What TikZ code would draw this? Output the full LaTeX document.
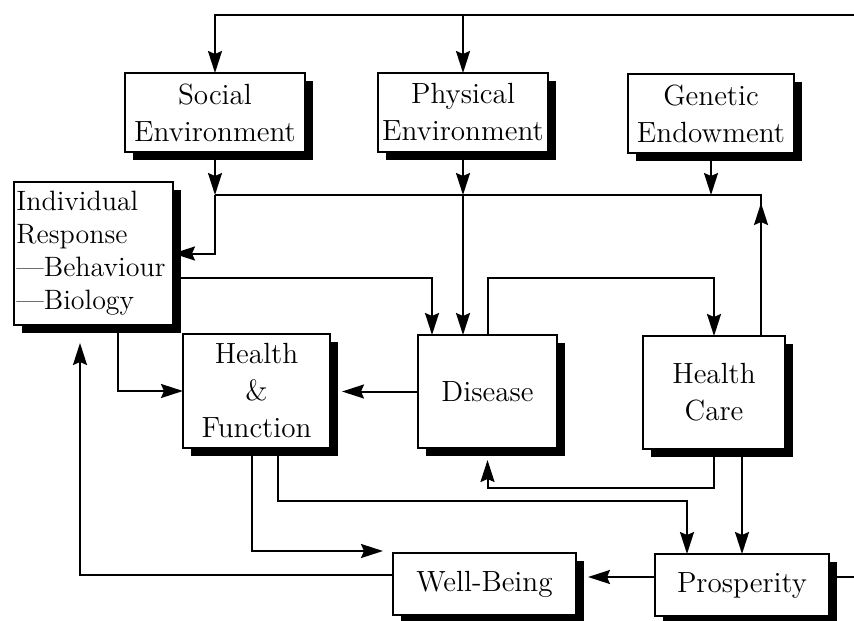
\documentclass[tikz,border=0pt]{standalone}
\usetikzlibrary{arrows.meta,shadows}
\newcommand\boxfont{\fontsize{14.6}{18.5}\selectfont}

\begin{document}
\begin{tikzpicture}[x=.5pt,y=-.5pt,
  blk/.style={draw,fill=white,line width=.7pt,inner sep=1pt,outer sep=0pt,
    align=center,font=\boxfont,
    drop shadow={shadow xshift=4pt,shadow yshift=-4pt,fill=black,opacity=1}},
  arr/.style={line width=1pt,-{Stealth[length=11pt,width=7pt,inset=1.5pt]}},
  ln/.style={line width=1pt}]
\useasboundingbox (0,0) rectangle (854,620);

\node[blk,minimum width=90pt,minimum height=39.5pt] (se) at (215,112.5) {Social\\Environment};
\node[blk,minimum width=85pt,minimum height=39.5pt] (pe) at (463,112.5) {Physical\\Environment};
\node[blk,minimum width=83pt,minimum height=39.5pt] (ge) at (711,113.5) {Genetic\\Endowment};
\node[blk,minimum width=79.5pt,minimum height=71.5pt,align=left,text width=77pt,
  font=\fontsize{14}{16.5}\selectfont] (ir) at (93.5,253.5)
  {Individual\\Response\\\textemdash Behaviour\\\textemdash Biology};
\node[blk,minimum width=73.5pt,minimum height=57pt] (hf) at (256.5,391) {Health\\\&\\Function};
\node[blk,minimum width=69.5pt,minimum height=56.5pt] (di) at (487.5,391.5) {Disease};
\node[blk,minimum width=71pt,minimum height=56.5pt] (hc) at (714,392.5) {Health\\Care};
\node[blk,minimum width=91.5pt,minimum height=31pt] (wb) at (484.5,584) {Well-Being};
\node[blk,minimum width=87pt,minimum height=31pt] (pr) at (742,585) {Prosperity};

\coordinate (topin) at (854,15);
\coordinate (jn) at (215,195);
\coordinate (outr) at (854,577);
\coordinate (hcup) at ([xshift=-12pt]hc.north east);

% environment and genes
\draw[arr] (topin) -| (se);
\draw[arr] (pe |- topin) -- (pe);
\draw[arr] (se) -- (se |- jn);
\draw[arr] (pe) -- (pe |- jn);
\draw[arr] (ge) -- (ge |- jn);
\draw[ln] (se |- jn) -| (hcup);
\draw[arr] (hcup) -- +(0,-133);
\draw[arr] (se |- jn) |- (ir);
\draw[arr] (pe |- jn) -- (pe |- di.north);

% middle row
\draw[arr] ([yshift=-12pt]ir.east) -| ([xshift=7pt]di.north west);
\draw[arr] (di.north) -- ++(0,-57) -| (hc.north);
\draw[arr] ([xshift=12pt]ir.south) |- (hf);
\draw[arr,shorten >=6pt] (di.west) -- (di.west -| hf.east);
\draw[arr,shorten >=6pt] (hc.south) -- ++(0,39) -| (di.south);

% bottom row
\draw[arr] ([xshift=10.75pt]hf.south) -- ++(0,53) -| ([xshift=-27.5pt]pr.north);
\draw[arr,shorten >=5pt] ([xshift=-2.25pt]hf.south) |- ([yshift=1pt]wb.north west);
\draw[arr] (pr.north |- hc.south) -- (pr.north);
\draw[arr,shorten >=6pt] ([yshift=4pt]pr.west) -- ([yshift=4pt]pr.west -| wb.east);
\draw[arr,shorten >=9pt] ([yshift=4.5pt]wb.west) -| ([xshift=-6.75pt]ir.south);
\draw[ln] ([yshift=4pt]pr.east) -- (outr);
\end{tikzpicture}
\end{document}
